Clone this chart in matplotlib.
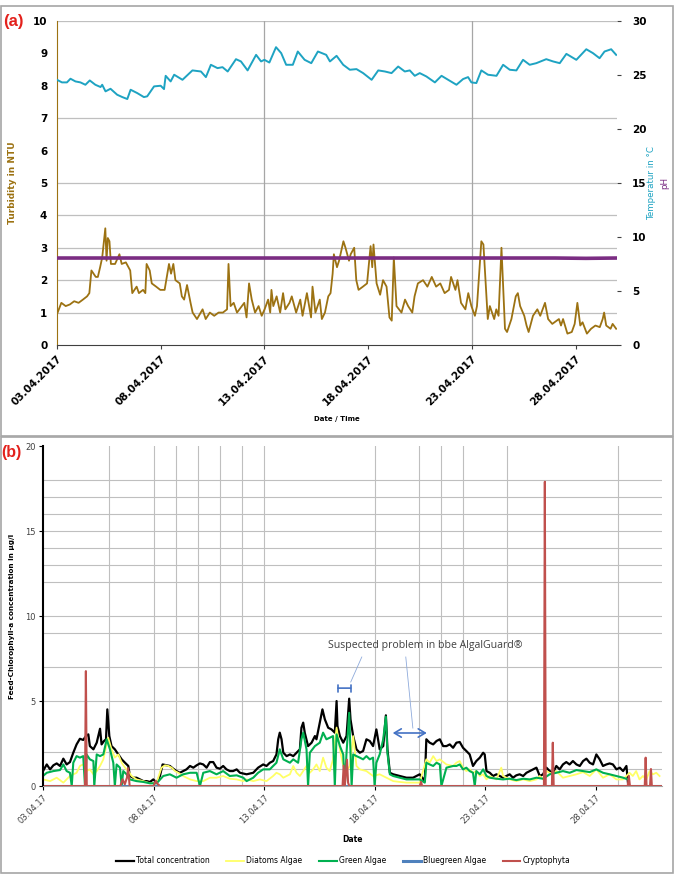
import numpy as np
import matplotlib.pyplot as plt
from matplotlib.patches import Rectangle

# ---------------- panel (a): online sensors (x = days after 03.04.2017 00:00)
turb_days = [0.0, 0.21, 0.42, 0.62, 0.83, 1.04, 1.25, 1.45, 1.56, 1.66, 1.87, 1.97, 2.08, 2.18,
             2.33, 2.39, 2.45, 2.53, 2.6, 2.8, 3.01, 3.12, 3.32, 3.53, 3.63, 3.84, 3.95, 4.15,
             4.26, 4.32, 4.47, 4.57, 4.78, 4.98, 5.19, 5.4, 5.5, 5.61, 5.71, 5.92, 6.02, 6.13,
             6.27, 6.44, 6.54, 6.75, 7.02, 7.17, 7.37, 7.58, 7.79, 8.0, 8.2, 8.27, 8.37, 8.52,
             8.68, 9.03, 9.14, 9.26, 9.39, 9.55, 9.72, 9.87, 10.01, 10.18, 10.28, 10.34, 10.43,
             10.59, 10.76, 10.9, 11.01, 11.21, 11.32, 11.53, 11.73, 11.84, 12.05, 12.25, 12.32,
             12.46, 12.67, 12.77, 12.92, 13.08, 13.19, 13.29, 13.35, 13.5, 13.6, 13.81, 13.91,
             14.08, 14.16, 14.33, 14.43, 14.54, 14.75, 14.95, 15.12, 15.2, 15.26, 15.41, 15.58,
             15.72, 15.89, 16.03, 16.14, 16.24, 16.37, 16.61, 16.78, 16.93, 17.13, 17.24, 17.4,
             17.65, 17.86, 18.07, 18.28, 18.48, 18.69, 18.9, 19.0, 19.21, 19.31, 19.48, 19.69,
             19.83, 19.98, 20.15, 20.25, 20.46, 20.56, 20.66, 20.77, 20.87, 21.08, 21.18, 21.29,
             21.43, 21.6, 21.7, 21.91, 22.12, 22.22, 22.33, 22.53, 22.64, 22.74, 22.95, 23.16,
             23.3, 23.53, 23.68, 23.88, 24.2, 24.3, 24.4, 24.61, 24.82, 24.96, 25.09, 25.23,
             25.34, 25.55, 25.75, 25.96, 26.17, 26.31, 26.38, 26.48, 26.69, 26.79, 26.96]
turb_ntu = [0.95, 1.3, 1.2, 1.25, 1.35, 1.3, 1.4, 1.5, 1.6, 2.3, 2.1, 2.1, 2.4, 2.7,
            3.6, 2.6, 3.3, 3.2, 2.5, 2.5, 2.8, 2.5, 2.55, 2.3, 1.6, 1.8, 1.6, 1.7,
            1.6, 2.5, 2.3, 1.9, 1.8, 1.7, 1.7, 2.5, 2.2, 2.5, 2.0, 1.9, 1.5, 1.4,
            1.85, 1.3, 1.0, 0.8, 1.1, 0.8, 1.0, 0.9, 1.0, 1.0, 1.1, 2.5, 1.2, 1.3,
            1.0, 1.3, 0.85, 1.9, 1.4, 1.0, 1.2, 0.9, 1.1, 1.4, 1.0, 1.7, 1.2,
            1.5, 1.0, 1.6, 1.1, 1.3, 1.5, 1.0, 1.4, 0.9, 1.6, 0.85, 1.8,
            1.0, 1.4, 0.8, 1.0, 1.5, 1.6, 2.2, 2.8, 2.4, 2.6, 3.2, 3.0,
            2.6, 2.8, 3.0, 2.0, 1.7, 1.8, 1.9, 3.05, 2.4, 3.1, 1.9, 1.55,
            2.0, 1.8, 0.85, 0.75, 2.7, 1.2, 1.0, 1.4, 1.2, 1.0, 1.5, 1.9,
            2.0, 1.8, 2.1, 1.8, 1.9, 1.6, 1.7, 2.1, 1.7, 2.0, 1.3, 1.1,
            1.6, 1.2, 0.9, 1.2, 3.2, 3.1, 2.0, 0.8, 1.2, 0.8, 1.1, 0.9,
            3.0, 0.5, 0.4, 0.8, 1.5, 1.6, 1.2, 0.9, 0.6, 0.4, 0.9, 1.1,
            0.9, 1.3, 0.8, 0.65, 0.8, 0.6, 0.8, 0.35, 0.4, 0.65, 1.3, 0.6,
            0.7, 0.35, 0.5, 0.6, 0.55, 0.8, 1.0, 0.6, 0.5, 0.65, 0.5]

temp_days = [0.0, 0.24, 0.48, 0.65, 0.89, 1.13, 1.37, 1.58, 1.85, 2.1, 2.18, 2.34, 2.58, 2.9,
             3.15, 3.39, 3.55, 3.87, 4.19, 4.35, 4.68, 5.0, 5.16, 5.24, 5.48, 5.65, 6.05, 6.53,
             6.94, 7.18, 7.42, 7.74, 7.98, 8.23, 8.63, 8.87, 9.19, 9.6, 9.84, 10.0, 10.24,
             10.56, 10.81, 11.05, 11.37, 11.61, 11.94, 12.26, 12.58, 12.98,
             13.16, 13.48, 13.8, 14.12, 14.44, 14.76, 15.17, 15.49, 15.81, 16.13, 16.45, 16.77,
             17.01, 17.25, 17.49, 17.81, 18.22, 18.54, 18.86, 19.26, 19.58, 19.82, 19.98, 20.22,
             20.46, 20.78, 21.19, 21.51, 21.83, 22.15, 22.47, 22.79, 23.11, 23.59, 23.92, 24.24,
             24.56, 25.04, 25.52, 25.84, 26.16, 26.4, 26.72, 26.96]
temp_c = [24.55, 24.31, 24.31, 24.65, 24.4, 24.31, 24.09, 24.49, 24.09, 23.88, 24.09, 23.48,
          23.72, 23.17, 22.95, 22.77, 23.63, 23.32, 22.95, 23.02, 23.94, 24.0, 23.69, 24.92,
          24.4, 25.02, 24.55, 25.42, 25.32, 24.8, 25.94, 25.63, 25.72, 25.32, 26.46, 26.25,
          25.42, 26.86, 26.25, 26.4, 26.15, 27.57, 27.02, 25.94, 25.94, 27.17, 26.4, 26.09,
          27.17, 26.86,
          26.25, 26.77, 25.94, 25.48, 25.54, 25.17, 24.55, 25.42, 25.32, 25.17, 25.78, 25.32,
          25.42, 24.92, 25.17, 24.86, 24.31, 24.92, 24.55, 24.09, 24.62, 24.8, 24.31, 24.25,
          25.42, 25.02, 24.92, 25.94, 25.48, 25.42, 26.4, 25.94, 26.09, 26.46, 26.25, 26.09,
          26.95, 26.4, 27.38, 27.02, 26.55, 27.17, 27.38, 26.86]

ph_days = [0.0, 9.0, 18.0, 24.0, 25.5, 27.0]
ph_vals = [8.05, 8.05, 8.05, 8.05, 8.02, 8.05]

top_ticklabels = ['03.04.2017', '08.04.2017', '13.04.2017', '18.04.2017', '23.04.2017', '28.04.2017']

# ---------------- panel (b): bbe AlgalGuard chlorophyll-a (x = days after 03.04.17)
total_days = [0.0, 0.17, 0.32, 0.47, 0.62, 0.77, 0.92, 1.07, 1.22, 1.37, 1.52, 1.67, 1.82, 1.94,
              2.05, 2.12, 2.28, 2.43, 2.58, 2.65, 2.76, 2.85, 2.91, 3.0, 3.1, 3.25, 3.41, 3.56,
              3.71, 3.86, 3.93, 4.08, 4.23, 4.39, 4.54, 4.69, 4.84, 4.99, 5.14, 5.29, 5.41, 5.59,
              5.74, 5.89, 6.04, 6.19, 6.34, 6.49, 6.65, 6.8, 6.95, 7.1, 7.25, 7.4, 7.55, 7.7,
              7.85, 8.0, 8.15, 8.3, 8.45, 8.6, 8.76, 8.91,
              9.21, 9.51, 9.73, 9.96, 10.11, 10.26, 10.41, 10.56, 10.64, 10.71, 10.79, 10.87,
              11.02, 11.17, 11.32, 11.47, 11.62, 11.69, 11.77, 11.84, 11.99, 12.15, 12.3, 12.37,
              12.52, 12.64, 12.75, 12.9, 13.05, 13.2, 13.28, 13.32, 13.43, 13.58, 13.73, 13.85,
              13.91, 14.03, 14.18, 14.33, 14.48, 14.63, 14.78, 14.93, 15.08, 15.23, 15.39, 15.51,
              15.58, 15.69, 15.84, 16.14, 16.44, 16.74, 17.04, 17.16, 17.27, 17.34, 17.49, 17.65,
              17.8, 17.95, 18.1, 18.25, 18.4, 18.55,
              18.7, 18.85, 19.0, 19.15, 19.3, 19.45, 19.6, 19.76, 19.91, 19.98, 20.06, 20.21,
              20.36, 20.51, 20.66, 20.81, 20.96, 21.11, 21.26, 21.41, 21.56, 21.72, 21.87, 22.02,
              22.17, 22.32, 22.47, 22.62, 22.77, 22.92, 23.07, 23.22, 23.37, 23.52, 23.67, 23.82,
              23.97, 24.13, 24.28, 24.43, 24.58, 24.73, 24.88, 25.03, 25.18, 25.33, 25.48, 25.63,
              25.78, 25.94, 26.09, 26.24, 26.39, 26.46]
total_conc = [0.88, 1.27, 0.98, 1.22, 1.33, 1.18, 1.61, 1.27, 1.41, 1.96, 2.45, 2.78, 2.71, 2.94,
              3.04, 2.35, 2.16, 2.55, 3.37, 2.45, 2.65, 2.75, 4.51, 2.94, 2.35, 2.16, 1.86, 1.57,
              1.37, 1.18, 0.59, 0.49, 0.49, 0.39, 0.29, 0.29, 0.24, 0.39, 0.2, 0.59, 1.27, 1.22,
              1.18, 1.02, 0.88, 0.78, 0.88, 0.98, 1.18, 1.08, 1.22, 1.33, 1.27, 1.08, 1.41, 1.41,
              1.08, 1.02, 1.18, 0.98, 0.88, 0.88, 0.98, 0.78,
              0.69, 0.78, 1.08, 1.27, 1.18, 1.37, 1.47, 1.86, 2.75, 3.14, 2.75, 1.96,
              1.76, 1.86, 1.76, 1.96, 2.16, 3.43, 3.73, 3.14, 2.35, 2.55, 2.94, 2.75,
              3.73, 4.51, 3.92, 3.43, 3.33, 3.14, 5.0, 3.53, 2.94, 2.55, 2.94, 5.14,
              3.92, 2.94, 2.16, 1.96, 2.06, 2.75, 2.65, 2.35, 3.33, 2.16, 2.35, 4.16,
              2.16, 0.78, 0.69, 0.59, 0.49, 0.49, 0.69, 0.49, 0.29, 2.75, 2.55, 2.45,
              2.65, 2.75, 2.35, 2.35, 2.45, 2.25,
              2.55, 2.59, 2.25, 2.06, 1.86, 1.18, 1.47, 1.67, 1.96, 1.86, 0.88, 0.78,
              0.59, 0.69, 0.59, 0.49, 0.59, 0.69, 0.49, 0.63, 0.69, 0.59, 0.78, 0.88,
              0.98, 1.08, 0.59, 0.69, 1.08, 0.88, 0.78, 1.18, 0.98, 1.27, 1.41, 1.27,
              1.47, 1.27, 1.18, 1.47, 1.61, 1.37, 1.27, 1.86, 1.57, 1.18, 1.27, 1.33,
              1.27, 0.98, 1.08, 0.88, 1.18, 0.2]

diatom_days = [0.0, 0.32, 0.62, 0.92, 1.22, 1.52, 1.67, 1.82, 1.97, 2.12, 2.28, 2.43, 2.58, 2.73,
               2.95, 3.1, 3.25, 3.41, 3.56, 3.71, 3.86, 4.01, 4.23, 4.54, 4.84, 5.14, 5.36, 5.52,
               5.67, 5.82, 5.97, 6.12, 6.34, 6.65, 6.95, 7.25, 7.55, 7.85, 8.15, 8.45, 8.76, 9.06,
               9.21, 9.51, 9.81, 10.11, 10.41, 10.56, 10.71, 10.87, 11.02, 11.17, 11.32, 11.47,
               11.62, 11.77, 11.92, 12.07, 12.22, 12.37, 12.52, 12.67, 12.82, 12.97, 13.12, 13.28,
               13.43, 13.58, 13.73, 13.88, 14.03, 14.18, 14.33, 14.63, 14.93, 15.23, 15.53, 15.84,
               16.14, 16.44, 17.04, 17.34, 17.49, 17.65, 17.8, 17.95, 18.25, 18.55,
               18.7, 18.85, 19.0, 19.15, 19.3, 19.45, 19.6, 19.76, 19.91, 20.06, 20.21, 20.51,
               20.73, 20.81, 21.11, 21.41, 21.72, 22.02, 22.32, 22.47, 22.62, 22.77, 22.92, 23.07,
               23.22, 23.52, 23.82, 24.13, 24.43, 24.73, 25.03, 25.33, 25.63, 25.94, 26.24, 26.53,
               26.68, 26.83, 26.98, 27.14, 27.29, 27.44, 27.59, 27.74, 27.89]
diatom_conc = [0.39, 0.29, 0.49, 0.2, 0.59, 0.78, 1.18, 1.27, 0.88, 0.98, 0.69, 0.88, 1.18, 1.57,
               2.84, 2.16, 1.67, 1.86, 1.37, 1.08, 0.88, 0.59, 0.39, 0.29, 0.16, 0.2, 1.08, 1.22,
               1.18, 1.08, 0.88, 0.78, 0.59, 0.39, 0.29, 0.29, 0.49, 0.49, 0.59, 0.43, 0.39, 0.29,
               0.39, 0.29, 0.39, 0.29, 0.59, 0.78, 0.69, 0.49, 0.59, 0.69, 1.18, 0.78,
               0.59, 0.88, 1.18, 0.78, 0.98, 1.27, 0.88, 1.67, 1.08, 0.88, 1.57, 3.43,
               2.16, 1.18, 0.88, 1.18, 2.94, 1.18, 0.98, 0.88, 0.59, 0.69, 0.49, 0.29,
               0.24, 0.2, 0.2, 1.57, 1.37, 1.76, 1.47, 1.57, 1.27, 1.18,
               1.37, 1.47, 1.08, 0.88, 0.98, 0.78, 0.88, 0.59, 0.69, 0.39, 0.59, 0.39,
               1.08, 0.59, 0.39, 0.29, 0.39, 0.29, 0.39, 0.59, 0.39, 0.88, 0.78, 0.69,
               0.88, 0.49, 0.59, 0.69, 0.82, 0.59, 0.98, 0.49, 0.69, 0.39, 0.39, 0.78,
               0.59, 0.88, 0.39, 0.59, 0.39, 0.88, 0.69, 0.78, 0.59]

green_days = [0.0, 0.17, 0.47, 0.77, 0.92, 1.07, 1.22, 1.3, 1.37, 1.52, 1.67, 1.82, 1.9, 1.97,
              2.12, 2.28, 2.32, 2.43, 2.58, 2.73, 2.88, 3.03, 3.18, 3.25, 3.33, 3.48, 3.56, 3.63,
              3.78, 3.93, 4.23, 4.54, 4.84, 5.14, 5.44, 5.74, 6.04, 6.34, 6.65, 6.95, 7.1, 7.25,
              7.55, 7.85, 8.15, 8.45, 8.76, 9.06,
              9.21, 9.51, 9.73, 9.96, 10.26, 10.41, 10.56, 10.71, 10.87, 11.02, 11.17, 11.32,
              11.54, 11.69, 11.77, 11.92, 11.99, 12.07, 12.3, 12.52, 12.67, 12.82, 12.97, 13.12,
              13.2, 13.28, 13.43, 13.58, 13.65, 13.73, 13.85, 13.96, 14.03, 14.18, 14.33, 14.48,
              14.63, 14.78, 14.93, 15.0, 15.08, 15.23, 15.39, 15.51, 15.58, 15.69, 15.84, 16.14,
              16.44, 16.74, 17.04, 17.27, 17.34, 17.49, 17.65, 17.8, 17.95, 18.02, 18.25, 18.55,
              18.7, 18.85, 19.0, 19.15, 19.3, 19.45, 19.53, 19.6, 19.76, 19.91, 20.06, 20.21,
              20.51, 20.81, 21.11, 21.41, 21.72, 22.02, 22.32, 22.62, 22.92, 23.22, 23.52, 23.82,
              24.13, 24.43, 24.73, 25.03, 25.33, 25.63, 25.94, 26.24, 26.46]
green_conc = [0.59, 0.78, 0.88, 0.94, 1.27, 0.88, 0.78, 0.0, 1.37, 1.76, 1.67, 1.76, 0.0, 1.86,
              1.57, 1.47, 0.0, 1.86, 1.76, 1.86, 2.75, 2.16, 1.37, 0.0, 1.27, 1.08, 0.0, 0.88,
              0.69, 0.39, 0.29, 0.24, 0.16, 0.16, 0.59, 0.69, 0.49, 0.69, 0.78, 0.78, 0.0, 0.78,
              0.88, 0.69, 0.88, 0.59, 0.63, 0.49,
              0.29, 0.49, 0.78, 0.98, 0.98, 1.18, 1.37, 2.16, 1.57, 1.47, 1.37, 1.57,
              1.37, 2.75, 3.14, 2.16, 0.0, 1.96, 2.35, 2.55, 3.14, 2.75, 2.84, 2.94,
              0.0, 3.04, 2.35, 1.86, 0.0, 1.96, 4.31, 0.0, 1.86, 1.76, 1.67, 1.57,
              1.76, 1.57, 1.67, 0.0, 1.37, 1.86, 2.75, 4.08, 1.96, 0.69, 0.59, 0.49,
              0.39, 0.39, 0.39, 0.2, 1.37, 1.27, 1.18, 1.37, 1.27, 0.0, 1.08, 1.18,
              1.18, 1.27, 0.98, 1.08, 0.88, 0.78, 0.0, 0.88, 0.69, 0.98, 0.59, 0.49,
              0.43, 0.39, 0.43, 0.35, 0.43, 0.39, 0.49, 0.43, 0.69, 0.78, 0.88, 0.78,
              0.94, 0.88, 0.82, 0.98, 0.78, 0.69, 0.59, 0.49, 0.39]

bluegreen_days = [0.0, 28.0]
bluegreen_conc = [0.0, 0.0]

crypto_days = [0.0, 1.9, 1.94, 1.98, 3.5, 3.6, 3.7, 3.8, 3.85, 3.92, 4.0, 5.0, 5.1, 5.2, 5.3,
               13.55, 13.6, 13.65, 13.75, 13.8, 13.85, 17.05, 17.1, 17.15, 22.66, 22.7, 22.74,
               23.02, 23.06, 23.1, 26.45, 26.5, 26.55, 27.22, 27.26, 27.3, 27.46, 27.5, 27.54, 28.0]
crypto_conc = [0, 0, 6.76, 0, 0, 0.4, 0.1, 0.5, 1.05, 0, 0, 0, 0.3, 0.1, 0,
               0, 1.2, 0, 1.55, 0.2, 0, 0, 0.25, 0, 0, 17.9, 0,
               0, 2.55, 0, 0, 0.6, 0, 0, 1.67, 0, 0, 1.0, 0, 0]

bottom_ticklabels = ['03.04.17', '08.04.17', '13.04.17', '18.04.17', '23.04.17', '28.04.17']
bottom_vgrid = [3, 5, 6, 7, 8, 9, 10, 15, 17, 18, 19, 21, 26]
bottom_hgrid = [1, 2, 5, 7, 9, 10, 12, 13, 14, 15, 16, 17, 18]

# colours
c_turb = '#9c7212'
c_temp = '#1ea3c2'
c_ph = '#7b2d83'
c_grid = '#bfbfbf'

fig = plt.figure(figsize=(6.76, 8.76), dpi=100)

# panel frames
fig.add_artist(Rectangle((0.0015, 0.5023), 0.994, 0.491, transform=fig.transFigure,
                         fill=False, edgecolor='#a6a6a6', lw=1.2))
fig.add_artist(Rectangle((0.0015, 0.0034), 0.994, 0.4977, transform=fig.transFigure,
                         fill=False, edgecolor='#a6a6a6', lw=1.2))

# ---------------- (a)
ax1 = fig.add_axes([0.0843, 0.6062, 0.8284, 0.3699])
ax1.set_xlim(0, 27)
ax1.set_ylim(0, 10)
for v in [1, 2, 3, 4, 5, 7, 10]:
    ax1.axhline(v, color=c_grid, lw=0.9, zorder=0)
for v in [10, 20]:
    ax1.axvline(v, color='#a6a6a6', lw=0.9, zorder=0)
ax1.plot(turb_days, turb_ntu, color=c_turb, lw=1.3)
ax1.set_yticks(range(0, 11))
ax1.set_yticklabels([str(v) for v in range(0, 11)], fontsize=7.5, fontweight='bold')
ax1.tick_params(axis='y', length=0, pad=7)
ax1.set_xticks([0, 5, 10, 15, 20, 25])
ax1.set_xticklabels(top_ticklabels, rotation=45, ha='right', rotation_mode='anchor',
                    fontsize=7.5, fontweight='bold')
ax1.tick_params(axis='x', length=3, color='#404040', pad=3)
for s in ['top', 'right']:
    ax1.spines[s].set_visible(False)
ax1.spines['left'].set_color(c_turb)
ax1.spines['bottom'].set_color('#404040')
ax1.set_ylabel('Turbidity in NTU', fontsize=6.5, fontweight='bold', color=c_turb)
ax1.yaxis.set_label_coords(-0.071, 0.5)
ax1.set_xlabel('Date / Time', fontsize=5, fontweight='bold')
ax1.xaxis.set_label_coords(0.5, -0.22)

ax1r = ax1.twinx()
ax1r.set_ylim(0, 30)
ax1r.plot(temp_days, temp_c, color=c_temp, lw=1.4)
ax1r.plot(ph_days, ph_vals, color=c_ph, lw=2.6)
ax1r.set_yticks(range(0, 31, 5))
ax1r.set_yticklabels([str(v) for v in range(0, 31, 5)], fontsize=7.5, fontweight='bold')
ax1r.tick_params(axis='y', length=3, width=0.8, color='#404040', pad=8)
for s in ['top', 'right', 'left', 'bottom']:
    ax1r.spines[s].set_visible(False)
ax1r.text(1.061, 0.5, 'Temperatur in °C', transform=ax1r.transAxes, rotation=90,
          ha='center', va='center', fontsize=6.3, color=c_temp)
ax1r.text(1.086, 0.5, 'pH', transform=ax1r.transAxes, rotation=90,
          ha='center', va='center', fontsize=6.3, color=c_ph)

fig.text(0.004, 0.976, '(a)', color='#e3211c', fontsize=12, fontweight='bold',
         family='Liberation Sans', ha='left', va='center')

# ---------------- (b)
ax2 = fig.add_axes([0.0636, 0.1027, 0.9157, 0.3881])
ax2.set_xlim(0, 28)
ax2.set_ylim(0, 20)
for v in bottom_hgrid:
    ax2.axhline(v, color=c_grid, lw=0.8, zorder=0)
for v in bottom_vgrid:
    ax2.axvline(v, color=c_grid, lw=0.8, zorder=0)

ax2.plot(total_days, total_conc, color='black', lw=1.6, label='Total concentration')
ax2.plot(diatom_days, diatom_conc, color='#ffff66', lw=1.3, label='Diatoms Algae')
ax2.plot(green_days, green_conc, color='#00b050', lw=1.5, label='Green Algae')
ax2.plot(bluegreen_days, bluegreen_conc, color='#4f81bd', lw=2.2, label='Bluegreen Algae')
ax2.plot(crypto_days, crypto_conc, color='#c0504d', lw=1.5, label='Cryptophyta')

ax2.set_yticks([0, 5, 10, 15, 20])
ax2.set_yticklabels(['0', '5', '10', '15', '20'], fontsize=6, color='#404040')
ax2.tick_params(axis='y', length=3, width=0.8, pad=2)
ax2.set_xticks([0, 5, 10, 15, 20, 25])
ax2.set_xticklabels(bottom_ticklabels, rotation=45, ha='right', rotation_mode='anchor',
                    fontsize=6, color='#404040')
ax2.tick_params(axis='x', length=3, width=0.8, pad=2)
for s in ['top', 'right']:
    ax2.spines[s].set_visible(False)
ax2.spines['left'].set_linewidth(1.5)
ax2.spines['bottom'].set_color('#a6a6a6')
ax2.set_ylabel('Feed-Chlorophyll-a concentration in µg/l', fontsize=5.2, fontweight='bold')
ax2.yaxis.set_label_coords(-0.045, 0.5)
ax2.set_xlabel('Date', fontsize=5.5, fontweight='bold')
ax2.xaxis.set_label_coords(0.5, -0.145)

ax2.legend(loc='center', bbox_to_anchor=(0.485, -0.22), ncol=5, frameon=False,
           fontsize=5.5, handlelength=2.3, handletextpad=0.3, columnspacing=2.2)

# annotation of the suspected sensor problem
ax2.text(17.31, 8.24, 'Suspected problem in bbe AlgalGuard®', ha='center', va='center',
         fontsize=7.6, color='#404040', family='Open Sans')
ax2.plot([14.42, 13.92], [7.59, 6.12], color='#8eaadb', lw=0.6)
ax2.plot([16.41, 16.73], [7.59, 3.41], color='#8eaadb', lw=0.6)
ax2.annotate('', xy=(13.34, 5.76), xytext=(13.92, 5.76),
             arrowprops=dict(arrowstyle='|-|,widthA=0.25,widthB=0.25', color='#4472c4',
                             lw=1.2, shrinkA=0, shrinkB=0))
ax2.annotate('', xy=(15.82, 3.12), xytext=(17.36, 3.12),
             arrowprops=dict(arrowstyle='<->,head_length=0.5,head_width=0.3', color='#4472c4',
                             lw=1.2, shrinkA=0, shrinkB=0))

fig.text(0.002, 0.484, '(b)', color='#e3211c', fontsize=11.5, fontweight='bold',
         family='Liberation Sans', ha='left', va='center')

plt.savefig('out.png', dpi=100)
